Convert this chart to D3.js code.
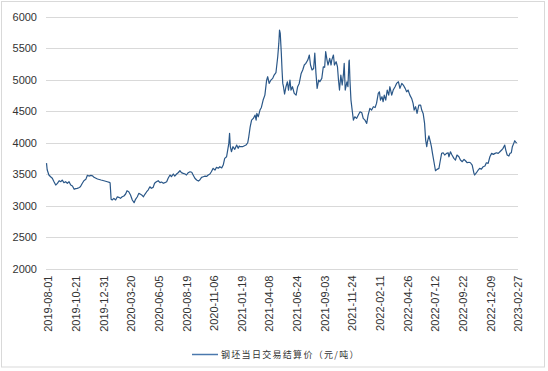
<!DOCTYPE html>
<html lang="zh">
<head>
  <meta charset="utf-8">
  <title>钢坯当日交易结算价</title>
  <script src="https://d3js.org/d3.v7.min.js"></script>
  <style type="text/css">
    body { margin: 0; background: #fff; }
    svg text { font-family: "Liberation Sans", Arial, sans-serif; fill: #333; }
    .legend text { font-family: "Noto Sans CJK SC", sans-serif; letter-spacing: 1.3px; }
  </style>
</head>
<body>
<div id="chart"></div>
<script type="text/javascript">
const w = 548;
const h = 371;

// axis tick labels (category axis of the original)
const tickLabels = ["2019-08-01","2019-10-21","2019-12-31","2020-03-20","2020-06-05","2020-08-19",
  "2020-11-06","2021-01-19","2021-04-08","2021-06-24","2021-09-03","2021-11-24","2022-02-11",
  "2022-04-26","2022-07-12","2022-09-22","2022-12-09","2023-02-27"];
const yTicks = [2000, 2500, 3000, 3500, 4000, 4500, 5000, 5500, 6000];
const seriesName = "钢坯当日交易结算价（元/吨）";

// values
const dates = [
  "2019-08-01","2019-08-03","2019-08-08","2019-08-13","2019-08-18","2019-08-23","2019-08-28","2019-09-02","2019-09-07","2019-09-12",
  "2019-09-16","2019-09-21","2019-09-26","2019-10-01","2019-10-06","2019-10-11","2019-10-16","2019-10-21","2019-10-25","2019-10-29",
  "2019-11-02","2019-11-06","2019-11-11","2019-11-15","2019-11-20","2019-11-24","2019-11-28","2019-12-03","2019-12-07","2019-12-11",
  "2019-12-16","2019-12-20","2019-12-29","2020-01-06","2020-01-16","2020-01-22","2020-01-24","2020-01-27","2020-01-30","2020-02-04",
  "2020-02-09","2020-02-14","2020-02-18","2020-02-23","2020-02-28","2020-03-04","2020-03-09","2020-03-13","2020-03-18","2020-03-23",
  "2020-03-28","2020-04-02","2020-04-06","2020-04-11","2020-04-15","2020-04-20","2020-04-23","2020-04-28","2020-05-02","2020-05-07",
  "2020-05-11","2020-05-16","2020-05-20","2020-05-25","2020-05-29","2020-06-03","2020-06-08","2020-06-13","2020-06-17","2020-06-22",
  "2020-06-26","2020-07-01","2020-07-05","2020-07-10","2020-07-14","2020-07-19","2020-07-23","2020-07-28","2020-08-01","2020-08-06",
  "2020-08-10","2020-08-15","2020-08-20","2020-08-24","2020-08-29","2020-09-03","2020-09-08","2020-09-12","2020-09-17","2020-09-22",
  "2020-09-27","2020-10-01","2020-10-06","2020-10-11","2020-10-16","2020-10-21","2020-10-25","2020-10-30","2020-11-03","2020-11-08",
  "2020-11-13","2020-11-17","2020-11-22","2020-11-26","2020-12-01","2020-12-05","2020-12-09","2020-12-14","2020-12-17","2020-12-20",
  "2020-12-22","2020-12-24","2020-12-27","2020-12-31","2021-01-05","2021-01-10","2021-01-14","2021-01-17","2021-01-19","2021-01-26",
  "2021-02-05","2021-02-10","2021-02-13","2021-02-17","2021-02-21","2021-02-26","2021-03-03","2021-03-06","2021-03-08","2021-03-12",
  "2021-03-17","2021-03-21","2021-03-26","2021-03-31","2021-04-05","2021-04-08","2021-04-12","2021-04-17","2021-04-22","2021-04-26",
  "2021-05-01","2021-05-06","2021-05-09","2021-05-11","2021-05-13","2021-05-16","2021-05-18","2021-05-20","2021-05-22","2021-05-25",
  "2021-05-29","2021-06-02","2021-06-05","2021-06-09","2021-06-12","2021-06-16","2021-06-21","2021-06-26","2021-06-30","2021-07-04",
  "2021-07-09","2021-07-13","2021-07-17","2021-07-21","2021-07-26","2021-07-30","2021-08-02","2021-08-06","2021-08-10","2021-08-13",
  "2021-08-16","2021-08-19","2021-08-23","2021-08-26","2021-08-31","2021-09-04","2021-09-08","2021-09-11","2021-09-15","2021-09-18",
  "2021-09-23","2021-09-27","2021-09-29","2021-10-04","2021-10-07","2021-10-12","2021-10-16","2021-10-19","2021-10-22","2021-10-26",
  "2021-10-30","2021-11-03","2021-11-05","2021-11-08","2021-11-13","2021-11-16","2021-11-19","2021-11-20","2021-11-22","2021-11-25",
  "2021-11-29","2021-12-02","2021-12-06","2021-12-11","2021-12-16","2021-12-21","2021-12-26","2021-12-30","2022-01-04","2022-01-09",
  "2022-01-13","2022-01-18","2022-01-23","2022-01-28","2022-02-02","2022-02-06","2022-02-11","2022-02-14","2022-02-17","2022-02-21",
  "2022-02-24","2022-02-27","2022-03-03","2022-03-07","2022-03-11","2022-03-14","2022-03-19","2022-03-23","2022-03-28","2022-04-01",
  "2022-04-06","2022-04-10","2022-04-15","2022-04-19","2022-04-24","2022-04-28","2022-05-02","2022-05-07","2022-05-12","2022-05-16",
  "2022-05-19","2022-05-23","2022-05-27","2022-06-01","2022-06-06","2022-06-09","2022-06-13","2022-06-17","2022-06-20","2022-06-23",
  "2022-06-25","2022-06-29","2022-07-03","2022-07-06","2022-07-09","2022-07-13","2022-07-17","2022-07-21","2022-07-26","2022-07-29",
  "2022-08-02","2022-08-06","2022-08-10","2022-08-15","2022-08-19","2022-08-21","2022-08-25","2022-08-29","2022-09-03","2022-09-07",
  "2022-09-11","2022-09-16","2022-09-20","2022-09-25","2022-09-30","2022-10-04","2022-10-09","2022-10-14","2022-10-18","2022-10-23",
  "2022-10-28","2022-10-30","2022-11-04","2022-11-09","2022-11-13","2022-11-18","2022-11-23","2022-11-28","2022-12-02","2022-12-07",
  "2022-12-12","2022-12-17","2022-12-22","2022-12-27","2022-12-31","2023-01-05","2023-01-10","2023-01-15","2023-01-19","2023-01-24",
  "2023-01-27","2023-01-31","2023-02-05","2023-02-08","2023-02-12","2023-02-15","2023-02-19","2023-02-22","2023-02-26","2023-02-27"
];
const prices = [
  3675,3570,3487,3460,3435,3380,3328,3355,3396,3380,
  3407,3365,3380,3355,3380,3328,3312,3260,3270,3275,
  3285,3300,3355,3396,3418,3482,3470,3482,3475,3450,
  3435,3423,3407,3396,3380,3370,3365,3100,3090,3116,
  3090,3141,3132,3116,3141,3153,3185,3237,3221,3169,
  3090,3046,3100,3141,3195,3180,3170,3141,3180,3221,
  3248,3300,3275,3290,3355,3380,3396,3365,3375,3355,
  3365,3380,3435,3487,3460,3503,3470,3503,3523,3555,
  3525,3513,3503,3487,3523,3539,3530,3487,3435,3407,
  3391,3407,3450,3460,3470,3465,3487,3503,3539,3592,
  3566,3608,3595,3619,3600,3645,3751,3777,3884,3990,
  4150,3937,3857,3937,3895,3963,3911,3947,3937,3937,
  3963,4000,4095,4254,4360,4387,4440,4360,4466,4413,
  4520,4562,4679,4758,4997,5050,4944,4997,5024,5077,
  5114,5368,5580,5793,5740,5422,5157,4944,4891,4775,
  4891,4970,4838,4997,4838,4891,4785,4758,4891,4944,
  5103,5157,5236,5262,5315,5395,5236,5157,5180,5427,
  5103,4865,4997,4970,5024,5209,5200,5448,5315,5236,
  5342,5236,5315,5395,5236,5289,5209,4997,4838,5077,
  4918,5103,5262,4838,4970,4891,5289,5315,4997,4679,
  4493,4360,4413,4387,4440,4493,4477,4387,4360,4307,
  4440,4546,4520,4573,4560,4626,4785,4811,4679,4732,
  4652,4758,4679,4838,4758,4891,4758,4838,4891,4944,
  4970,4865,4944,4918,4865,4811,4838,4758,4705,4626,
  4520,4573,4466,4599,4599,4520,4466,4307,4042,3937,
  4016,4110,4016,3937,3831,3698,3555,3577,3592,3698,
  3831,3841,3805,3831,3840,3777,3857,3805,3751,3725,
  3805,3777,3725,3698,3735,3714,3682,3690,3682,3645,
  3513,3487,3523,3566,3592,3580,3619,3630,3682,3672,
  3777,3831,3815,3831,3841,3831,3857,3884,3911,3963,
  3884,3805,3789,3831,3841,3937,3990,4032,4000,4010
];

const parse = d3.timeParse("%Y-%m-%d");
const data = dates.map((d, i) => ({ date: parse(d), value: prices[i] }));
const tickDates = tickLabels.map(parse);

const plotLeft = 46.5, plotRight = 516.5;
const plotTop = 17, plotBottom = 268.5;
const step = (plotRight - plotLeft) / (tickLabels.length - 1);

// piecewise time scale: every labelled date sits on an evenly spaced slot (category axis look)
const xScale = d3.scaleTime()
  .domain(tickDates)
  .range(tickDates.map((d, i) => plotLeft + i * step));

const yScale = d3.scaleLinear()
  .domain([2000, 6000])
  .range([plotBottom, plotTop]);

const svg = d3.select("#chart")
  .append("svg")
  .attr("width", w)
  .attr("height", h);

svg.append("rect")
  .attr("x", 1.5).attr("y", 1.5)
  .attr("width", 543).attr("height", 365.5)
  .attr("fill", "#fff")
  .attr("stroke", "#d9d9d9");

// gridlines + y labels
const leftAxis = d3.axisLeft(yScale)
  .tickValues(yTicks)
  .tickSize(-(plotRight - plotLeft + 2))
  .tickPadding(9)
  .tickFormat(d3.format("d"));
const gy = svg.append("g")
  .attr("transform", "translate(" + (plotLeft - 0.5) + ",0)")
  .call(leftAxis);
gy.select(".domain").remove();
gy.selectAll("line").attr("stroke", "#d9d9d9").attr("stroke-width", 1);
gy.selectAll("text").style("font-size", "11px").attr("fill", "#333");
gy.selectAll(".tick").attr("transform", d => "translate(0," + (Math.round(yScale(d)) + 0.5) + ")");

// x labels
const bottomAxis = d3.axisBottom(xScale)
  .tickValues(tickDates)
  .tickSize(0)
  .tickFormat(d3.timeFormat("%Y-%m-%d"));
const gx = svg.append("g")
  .attr("transform", "translate(0," + plotBottom + ")")
  .call(bottomAxis);
gx.select(".domain").remove();
gx.selectAll("text")
  .style("font-size", "11px")
  .attr("fill", "#333")
  .attr("transform", "rotate(-90)")
  .attr("x", -7)
  .attr("y", 0)
  .attr("dy", "0.48em")
  .style("text-anchor", "end");

// price line
const line = d3.line()
  .x(d => xScale(d.date))
  .y(d => yScale(d.value));

svg.append("path")
  .datum(data)
  .attr("fill", "none")
  .attr("stroke", "#2a5788")
  .attr("stroke-width", 1.2)
  .attr("stroke-linejoin", "round")
  .attr("d", line);

// legend
const legend = svg.append("g").attr("class", "legend");
legend.append("line")
  .attr("x1", 192).attr("x2", 218)
  .attr("y1", 354.5).attr("y2", 354.5)
  .attr("stroke", "#4a78ad")
  .attr("stroke-width", 1.5);
legend.append("text")
  .attr("x", 221)
  .attr("y", 354.5)
  .attr("dy", "0.35em")
  .style("font-size", "9px")
  .text(seriesName);
</script>
</body>
</html>
